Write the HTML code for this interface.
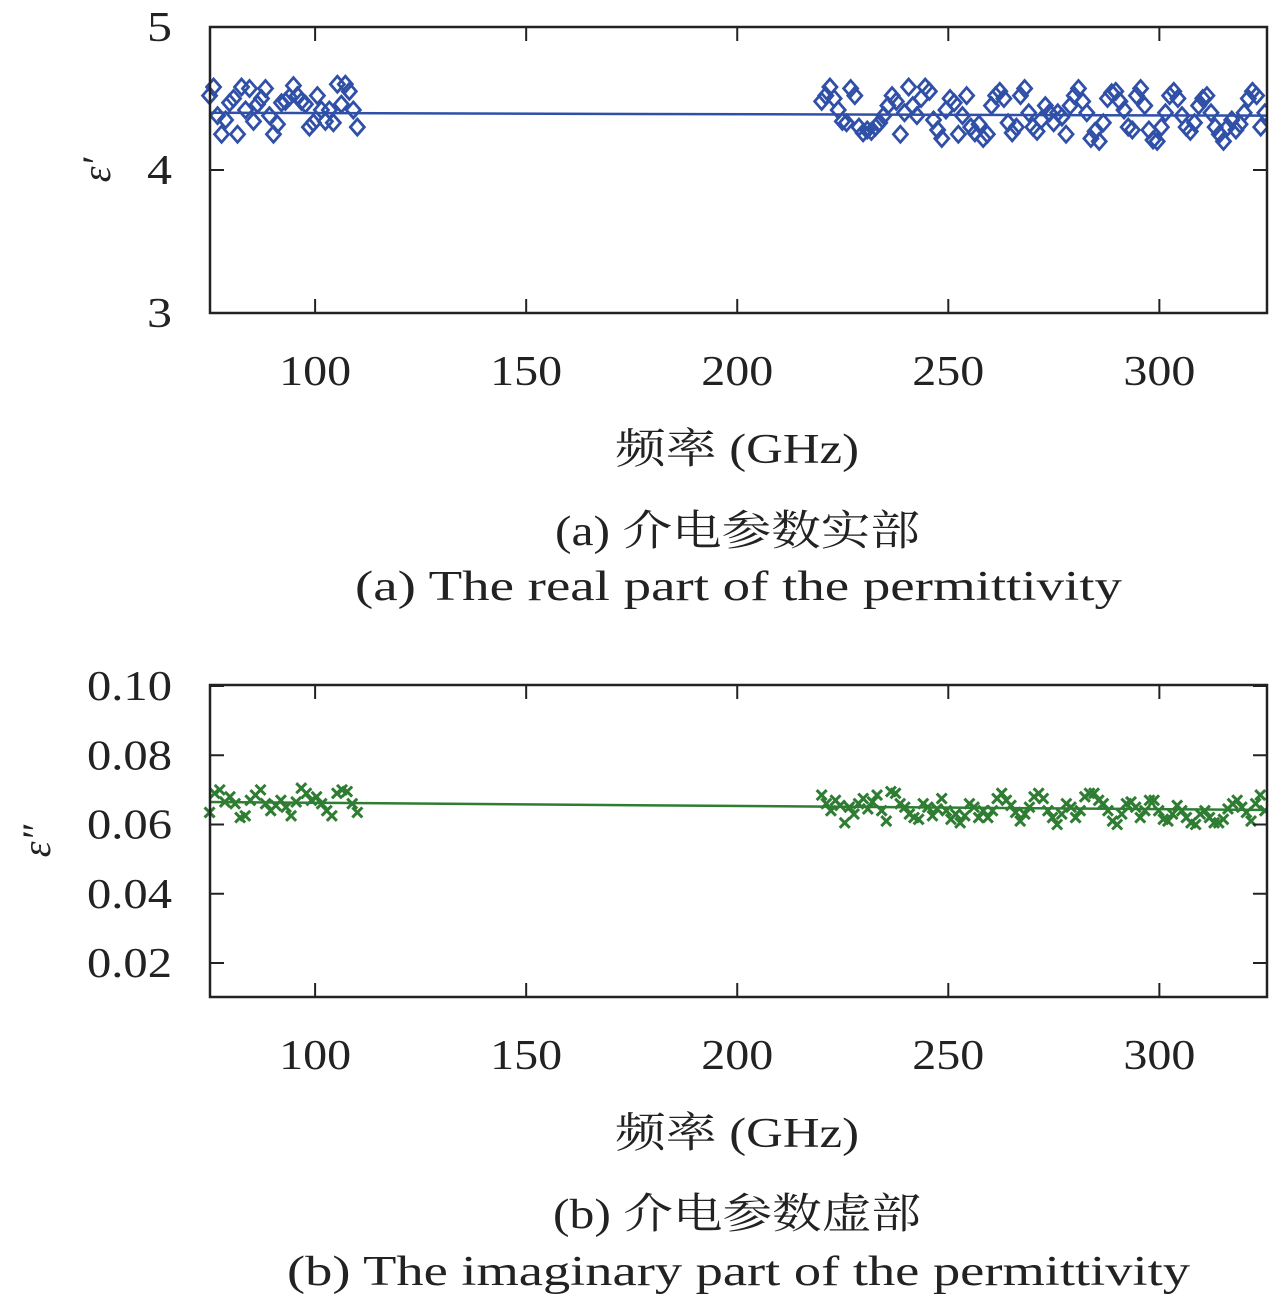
<!DOCTYPE html>
<html><head><meta charset="utf-8">
<style>
body{margin:0;background:#fff;}
svg{display:block;}
text{font-family:"Liberation Serif","Noto Serif CJK SC",serif;fill:#222;}
</style></head>
<body>
<svg id="fig" width="1280" height="1299" viewBox="0 0 1280 1299" xmlns="http://www.w3.org/2000/svg">
<g id="pa"></g>
<g id="pb"></g>
<text x="555" y="545" font-size="42" textLength="365" lengthAdjust="spacingAndGlyphs">(a) 介电参数实部</text>
<text x="355" y="600" font-size="42" textLength="767" lengthAdjust="spacingAndGlyphs">(a) The real part of the permittivity</text>
<text x="553" y="1228" font-size="42" textLength="368" lengthAdjust="spacingAndGlyphs">(b) 介电参数虚部</text>
<text x="287" y="1285" font-size="42" textLength="903" lengthAdjust="spacingAndGlyphs">(b) The imaginary part of the permittivity</text>
</svg>
<script>
const xTicks=[100,150,200,250,300];
const realTicks=[3,4,5];
const realTickLabels=["3","4","5"];
const imagTicks=[0.02,0.04,0.06,0.08,0.10];
const imagTickLabels=["0.02","0.04","0.06","0.08","0.10"];
const lowBand=[75,110];
const highBand=[220,325];
const realLow=[4.52,4.58,4.38,4.25,4.35,4.47,4.50,4.25,4.58,4.42,4.57,4.34,4.46,4.50,4.57,4.38,4.25,4.32,4.47,4.48,4.51,4.59,4.52,4.48,4.46,4.30,4.33,4.52,4.42,4.34,4.42,4.33,4.60,4.46,4.60,4.55,4.42,4.30];
const realHigh=[4.48,4.52,4.58,4.50,4.42,4.34,4.33,4.57,4.52,4.30,4.26,4.28,4.27,4.30,4.33,4.38,4.45,4.52,4.48,4.25,4.40,4.58,4.45,4.38,4.50,4.58,4.55,4.35,4.28,4.22,4.42,4.50,4.47,4.25,4.38,4.52,4.30,4.26,4.32,4.22,4.25,4.45,4.52,4.55,4.50,4.33,4.26,4.30,4.52,4.57,4.40,4.30,4.27,4.35,4.45,4.40,4.33,4.40,4.37,4.25,4.45,4.52,4.57,4.48,4.40,4.22,4.27,4.20,4.33,4.50,4.54,4.55,4.48,4.42,4.30,4.28,4.52,4.57,4.45,4.28,4.21,4.20,4.30,4.40,4.52,4.55,4.50,4.38,4.30,4.27,4.33,4.45,4.50,4.52,4.40,4.30,4.25,4.20,4.30,4.35,4.28,4.32,4.40,4.50,4.55,4.52,4.30,4.40];
const imagLow=[0.0635,0.0690,0.0700,0.0665,0.0680,0.0660,0.0620,0.0625,0.0670,0.0685,0.0700,0.0660,0.0640,0.0655,0.0670,0.0650,0.0625,0.0665,0.0705,0.0690,0.0670,0.0680,0.0660,0.0640,0.0625,0.0690,0.0700,0.0695,0.0660,0.0635];
const imagHigh=[0.0685,0.0660,0.0640,0.0670,0.0655,0.0605,0.0650,0.0630,0.0660,0.0675,0.0645,0.0665,0.0685,0.0640,0.0610,0.0695,0.0690,0.0660,0.0650,0.0630,0.0620,0.0615,0.0660,0.0650,0.0625,0.0645,0.0675,0.0640,0.0615,0.0630,0.0605,0.0625,0.0660,0.0650,0.0620,0.0640,0.0620,0.0640,0.0675,0.0690,0.0670,0.0655,0.0635,0.0610,0.0630,0.0650,0.0680,0.0690,0.0675,0.0640,0.0620,0.0600,0.0630,0.0660,0.0650,0.0620,0.0640,0.0680,0.0690,0.0690,0.0670,0.0660,0.0640,0.0610,0.0600,0.0630,0.0660,0.0665,0.0650,0.0620,0.0640,0.0670,0.0670,0.0640,0.0615,0.0610,0.0630,0.0655,0.0640,0.0620,0.0605,0.0600,0.0630,0.0640,0.0620,0.0605,0.0605,0.0615,0.0645,0.0660,0.0670,0.0650,0.0635,0.0610,0.0660,0.0685,0.0640];
const realFit=[4.40,4.38];
const imagFit=[0.0665,0.0642];

const NS="http://www.w3.org/2000/svg";
function mk(parent,tag,attrs){const e=document.createElementNS(NS,tag);for(const k in attrs)e.setAttribute(k,attrs[k]);parent.appendChild(e);return e;}
const X0=210,X1=1267,F0=75.1,F1=325.5;
const xs=f=>X0+(f-F0)/(F1-F0)*(X1-X0);
function bandX(band,n,i){return band[0]+(band[1]-band[0])*i/(n-1);}

function drawChart(g,cfg){
  const ys=v=>cfg.yTop+(cfg.vTop-v)/(cfg.vTop-cfg.vBot)*(cfg.yBot-cfg.yTop);
  const boxTop=cfg.yTop0, boxBot=cfg.yBot0;
  const addPts=(band,vals)=>{vals.forEach((v,i)=>{const x=xs(bandX(band,vals.length,i)),y=ys(v);
    if(cfg.marker==='diamond'){
      const p=mk(g,'polygon',{points:`${x},${y-8} ${x+7},${y} ${x},${y+8} ${x-7},${y}`,fill:'none',stroke:cfg.color,'stroke-width':2.8});
      
      
    }else{
      const p=mk(g,'path',{d:`M${x-5},${y-5}L${x+5},${y+5}M${x-5},${y+5}L${x+5},${y-5}`,stroke:cfg.color,'stroke-width':3});
      
      
    }});};
  addPts(lowBand,cfg.low);addPts(highBand,cfg.high);
  const fl=mk(g,'line',{x1:X0,y1:ys(cfg.fit[0]),x2:X1,y2:ys(cfg.fit[1]),stroke:cfg.color,'stroke-width':2.5});
  
  
  mk(g,'rect',{x:X1+1,y:boxTop-10,width:20,height:boxBot-boxTop+20,fill:'#fff'});
  const fr=mk(g,'rect',{x:X0,y:boxTop,width:X1-X0,height:boxBot-boxTop,fill:'none',stroke:'#222','stroke-width':2.5});
  
  
  xTicks.forEach(t=>{const x=xs(t);
    mk(g,'line',{x1:x,y1:boxBot,x2:x,y2:boxBot-14,stroke:'#222','stroke-width':2});
    mk(g,'line',{x1:x,y1:boxTop,x2:x,y2:boxTop+14,stroke:'#222','stroke-width':2});
    const tx=mk(g,'text',{x:x-36,y:boxBot+72,'font-size':42,textLength:72,lengthAdjust:'spacingAndGlyphs'});tx.textContent=t;
    
    
  });
  cfg.ticks.forEach((t,i)=>{const y=ys(t);
    mk(g,'line',{x1:X0,y1:y,x2:X0+14,y2:y,stroke:'#222','stroke-width':2});
    mk(g,'line',{x1:X1,y1:y,x2:X1-14,y2:y,stroke:'#222','stroke-width':2});
    const lab=cfg.labels[i];
    const w=lab.length>1?85:25;
    const tx=mk(g,'text',{x:172-w,y:y+14,'font-size':42,textLength:w,lengthAdjust:'spacingAndGlyphs'});tx.textContent=lab;
    
    
  });
  const xl=mk(g,'text',{x:615,y:boxBot+150,'font-size':42,textLength:244,lengthAdjust:'spacingAndGlyphs'});xl.textContent='频率 (GHz)';
  
  
  const yl=mk(g,'text',{x:0,y:0,'font-size':40,'font-style':'italic','text-anchor':'middle',transform:`translate(${cfg.ylx},${(boxTop+boxBot)/2}) rotate(-90)`});yl.textContent=cfg.ytitle;
  
  
}
drawChart(document.getElementById('pa'),{yTop:27,yBot:313,vTop:5,vBot:3,yTop0:27,yBot0:313,ticks:realTicks,labels:realTickLabels,low:realLow,high:realHigh,fit:realFit,color:'#3050a8',marker:'diamond',ytitle:'ε′',ylx:110});
drawChart(document.getElementById('pb'),{yTop:686,yBot:963,vTop:0.10,vBot:0.02,yTop0:685,yBot0:997,ticks:imagTicks,labels:imagTickLabels,low:imagLow,high:imagHigh,fit:imagFit,color:'#2e7d32',marker:'cross',ytitle:'ε″',ylx:50});
</script>
</body></html>
